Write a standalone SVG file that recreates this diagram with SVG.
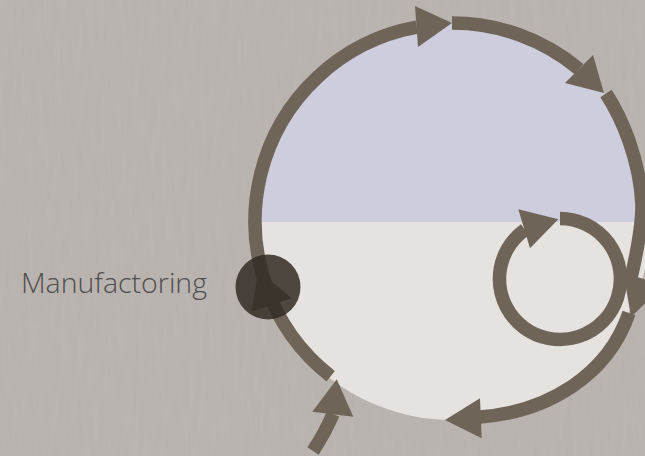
<svg xmlns="http://www.w3.org/2000/svg" width="645" height="456" viewBox="0 0 645 456">
  <defs>
    <style>
      .arc { fill: none; stroke: #6e6457; stroke-width: 13.5; stroke-linecap: butt; }
      .head { fill: #6e6457; stroke: none; }
      .label { font-family: "Open Sans", "Liberation Sans", sans-serif; font-weight: 300; font-size: 28px; fill: #4e4d4c; }
    </style>
    <clipPath id="topHalf"><rect x="0" y="0" width="645" height="222"/></clipPath>
    <clipPath id="bottomHalf"><rect x="0" y="222" width="645" height="234"/></clipPath>
    <filter id="grain" x="0" y="0" width="100%" height="100%" filterUnits="userSpaceOnUse">
      <feTurbulence type="fractalNoise" baseFrequency="0.18 0.025" numOctaves="3" seed="7" result="n"/>
      <feColorMatrix in="n" type="matrix" values="0 0 0 0 1  0 0 0 0 1  0 0 0 0 1  1.2 0 0 0 -0.5"/>
    </filter>
  </defs>

  <rect id="background" x="0" y="0" width="645" height="456" fill="#b9b3b0"/>
  <rect x="0" y="0" width="645" height="456" filter="url(#grain)" opacity="0.07"/>

  <g id="cycle-fill">
    <circle cx="452" cy="221" r="199" fill="#cecdde" clip-path="url(#topHalf)"/>
    <circle cx="452" cy="221" r="199" fill="#e5e2df" clip-path="url(#bottomHalf)"/>
  </g>

  <g id="connectors">
    <!-- left arc -->
    <path class="arc" d="M 330.7 376.2 A 197 197 0 0 1 416.8 27.2"/>
    <polygon class="head" points="415,6 418,47 452,23"/>
    <!-- top-right arc -->
    <path class="arc" d="M 452 23 A 198 198 0 0 1 579 69.1"/>
    <polygon class="head" points="565,83 593,55 604,93"/>
    <!-- right arc -->
    <path class="arc" d="M 606 93.5 C 622 118 640 160 642 205 C 642 225 637 252 631 278"/>
    <polygon class="head" points="623.4,272.5 663.4,285.5 631,317"/>
    <!-- bottom arc -->
    <path class="arc" d="M 629 313 C 608 375 548 412 480 417"/>
    <polygon class="head" points="480,398.3 481.7,438.3 445,420"/>
    <!-- loop -->
    <path class="arc" d="M 560 218.5 A 60.5 60.5 0 1 1 524.9 229.7"/>
    <polygon class="head" points="518.3,209.3 530,248.3 558.3,219.3"/>
    <!-- entry arrow -->
    <path class="arc" d="M 313 451 Q 326 431 333 414"/>
    <polygon class="head" points="312.3,411.7 353.3,416.7 336.7,379.3"/>
    <!-- arrowhead under node -->
    <polygon class="head" points="258.3,270 291.7,298.3 251.7,311.7"/>
  </g>

  <g id="node-manufactoring">
    <circle cx="268" cy="287" r="32.5" fill="#332b24" fill-opacity="0.85"/>
  </g>

  <g id="label-manufactoring">
    <text class="label" x="21" y="293" textLength="186" lengthAdjust="spacingAndGlyphs">Manufactoring</text>
  </g>
</svg>
